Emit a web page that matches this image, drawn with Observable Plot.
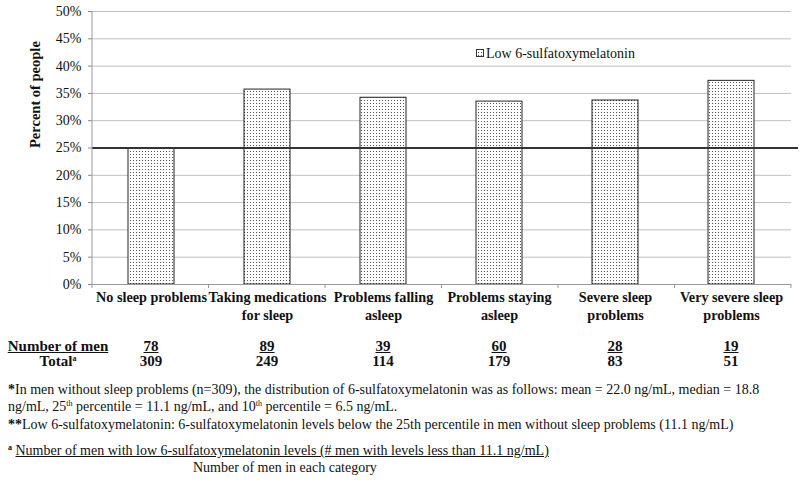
<!DOCTYPE html>
<html>
<head>
<meta charset="utf-8">
<script src="https://cdn.jsdelivr.net/npm/d3@7"></script>
<script src="https://cdn.jsdelivr.net/npm/@observablehq/plot@0.6"></script>
<style>
  html, body { margin: 0; padding: 0; background: #fff; }
  #wrap { position: relative; width: 800px; height: 483px; overflow: hidden; font-family: "Liberation Serif", "Times New Roman", serif; color: #111; }
  #chart { position: absolute; left: 0; top: 0; }
  .abs { position: absolute; white-space: nowrap; line-height: 16px; }
  .b { font-weight: bold; }
  .u { text-decoration: underline; }
  .c { transform: translateX(-50%); text-align: center; }
  .fn { font-size: 14px; }
  sup { font-size: 8px; line-height: 0; vertical-align: 5px; }
</style>
</head>
<body>
<div id="wrap"><div id="chart"></div></div>
<script>
const categories = ["No sleep problems", "Taking medications\nfor sleep", "Problems falling\nasleep", "Problems staying\nasleep", "Severe sleep\nproblems", "Very severe sleep\nproblems"];
const percentLow = [25.0, 35.7, 34.2, 33.5, 33.7, 37.3];
const numberLow = [78, 89, 39, 60, 28, 19];
const totals = [309, 249, 114, 179, 83, 51];
const yTicks = [0, 5, 10, 15, 20, 25, 30, 35, 40, 45, 50];
const referenceLine = 25;
const seriesName = "Low 6-sulfatoxymelatonin";

const data = categories.map((c, i) => ({category: c, value: percentLow[i]}));

const chart = Plot.plot({
  width: 800,
  height: 330,
  marginLeft: 92,
  marginRight: 9,
  marginTop: 11,
  marginBottom: 46,
  style: {fontFamily: "'Liberation Serif', 'Times New Roman', serif", fontSize: "13px", color: "#111", background: "white"},
  x: {domain: categories, paddingInner: 0.6, paddingOuter: 0.3, axis: null},
  y: {domain: [0, 50], axis: null},
  marks: [
    Plot.gridY(yTicks, {stroke: "#bfbfbf", strokeOpacity: 1}),
    Plot.axisY(yTicks, {tickFormat: d => d + "%", tickSize: 4, tickPadding: 7, stroke: "#888", fontSize: 14, label: null}),
    Plot.text(["Percent of people"], {frameAnchor: "left", dx: -57, rotate: -90, fontWeight: "bold", fontSize: 14.5}),
    Plot.barY(data, {x: "category", y: "value", fill: "url(#dots)", stroke: "#222", strokeWidth: 1}),
    Plot.ruleY([0], {stroke: "#999"}),
    Plot.ruleY([referenceLine], {stroke: "#333", strokeWidth: 2, insetRight: -7}),
    Plot.text(categories, {x: d => d, frameAnchor: "bottom", lineAnchor: "top", dy: 5, fontWeight: "bold", fontSize: 14.2, lineHeight: 1.25})
  ]
});

document.getElementById("chart").appendChild(chart);

const svg = d3.select(chart);
const defs = svg.insert("defs", ":first-child");
const pat = defs.append("pattern").attr("id", "dots").attr("patternUnits", "userSpaceOnUse").attr("width", 3).attr("height", 3);
pat.append("rect").attr("width", 3).attr("height", 3).attr("fill", "#fff");
pat.append("rect").attr("x", 1).attr("y", 1).attr("width", 1).attr("height", 1).attr("fill", "#555");

const xs = chart.scale("x");
const ys = chart.scale("y");
const x0 = xs.range[0], x1 = xs.range[1];
const n = categories.length;
const step = (x1 - x0) / n;
const y0 = ys.apply(0), yTop = ys.apply(50);

// y axis line
svg.append("line").attr("x1", x0).attr("x2", x0).attr("y1", yTop).attr("y2", y0).attr("stroke", "#999");
// category boundary ticks
for (let i = 0; i <= n; i++) {
  const xx = x0 + i * step;
  svg.append("line").attr("x1", xx).attr("x2", xx).attr("y1", y0).attr("y2", y0 + 4).attr("stroke", "#999");
}
// legend
const lg = svg.append("g");
lg.append("rect").attr("x", 476.5).attr("y", 49.5).attr("width", 7).attr("height", 7).attr("fill", "url(#dots)").attr("stroke", "#333");
lg.append("text").attr("x", 486).attr("y", 58).attr("font-size", 14).attr("text-anchor", "start").attr("fill", "#111").text(seriesName);

// table and footnotes
const wrap = document.getElementById("wrap");
function add(html, cls, left, top, extra) {
  const d = document.createElement("div");
  d.className = "abs " + cls;
  d.style.left = left + "px";
  d.style.top = top + "px";
  if (extra) Object.assign(d.style, extra);
  d.innerHTML = html;
  wrap.appendChild(d);
  return d;
}
const bw = xs.bandwidth;
add("Number of men", "b u", 58, 338, {fontSize: "15px", transform: "translateX(-50%)"});
add("Total<sup>a</sup>", "b", 58, 353, {fontSize: "15px", transform: "translateX(-50%)"});
categories.forEach((c, i) => {
  const cx = xs.apply(c) + bw / 2;
  add(String(numberLow[i]), "b u c", cx, 338, {fontSize: "15px"});
  add(String(totals[i]), "b c", cx, 353, {fontSize: "15px"});
});

add("<b>*</b>In men without sleep problems (n=309), the distribution of 6-sulfatoxymelatonin was as follows: mean = 22.0 ng/mL, median = 18.8", "fn", 8, 382);
add("ng/mL, 25<sup>th</sup> percentile = 11.1 ng/mL, and 10<sup>th</sup> percentile = 6.5 ng/mL.", "fn", 8, 399);
add("<b>**</b>Low 6-sulfatoxymelatonin: 6-sulfatoxymelatonin levels below the 25th percentile in men without sleep problems (11.1 ng/mL)", "fn", 8, 417);
add("<b><sup>a</sup></b> <span class='u'>Number of men with low 6-sulfatoxymelatonin levels (# men with levels less than 11.1 ng/mL)</span>", "fn", 8, 443);
add("Number of men in each category", "fn", 193, 460);
</script>
</body>
</html>
